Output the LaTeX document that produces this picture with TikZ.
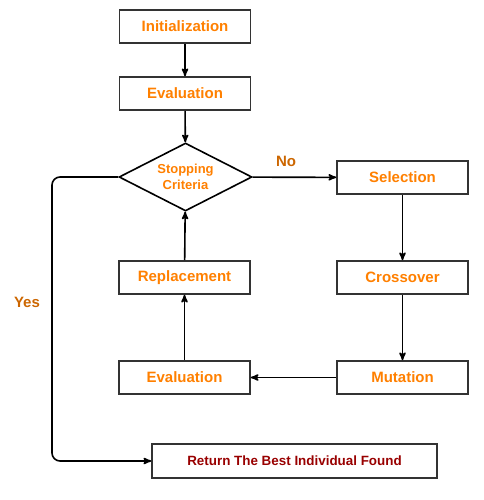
\documentclass[tikz,border=0pt]{standalone}
\usepackage{fontspec}
\setmainfont{Liberation Sans}
\usetikzlibrary{arrows,shapes.geometric}
\definecolor{darkorange}{HTML}{FF8000}
\definecolor{labelorange}{HTML}{CC6600}
\definecolor{darkred}{HTML}{990000}
\definecolor{boxline}{HTML}{333333}

\begin{document}
\begin{tikzpicture}[x=1pt, y=-1pt, ->, >=stealth', line width=1.6pt, font=\bfseries\fontsize{15}{17}\selectfont]

\tikzstyle{every node}=[rectangle, draw=boxline, fill=white, text=darkorange, minimum width=131pt, minimum height=33pt, inner sep=0pt]
\tikzstyle{test}=[diamond, aspect=1.95, minimum width=133pt, minimum height=68pt, font=\bfseries\fontsize{13}{16}\selectfont, align=center, draw=black]
\tikzstyle{answer}=[draw=none, fill=none, text=labelorange, minimum width=0pt, minimum height=0pt]

\useasboundingbox (0,0) rectangle (483,500);

\node (init)  at (185,26.5)  {Initialization};
\node (eval1) at (185,93.5)  {Evaluation};
\node[test] (stop) at (185.5,177) {Stopping\\Criteria};
\node (sel)   at (402.5,177.5) {Selection};
\node (cross) at (402.5,277.5) {Crossover};
\node (mut)   at (402.5,377.5) {Mutation};
\node (eval2) at (184.5,377.5) {Evaluation};
\node (repl)  at (184.5,277.5) {Replacement};
\node[minimum width=285pt, minimum height=34pt, text=darkred, font=\bfseries\fontsize{13.4}{15}\selectfont] (best) at (294.5,461) {Return The Best Individual Found};

\draw (init) -- (eval1);
\draw (eval1) -- (stop);
\draw (stop) -- (sel);
\draw (sel) -- (cross);
\draw (cross) -- (mut);
\draw (mut) -- (eval2);
\draw (eval2) -- (repl);
\draw (repl) -- (stop);
\draw[rounded corners=8pt] (stop.west) -| (52,300) |- (best.west);

\node[answer] (no)  at (286,161) {No};
\node[answer] (yes) at (27,302)  {Yes};

\end{tikzpicture}
\end{document}
